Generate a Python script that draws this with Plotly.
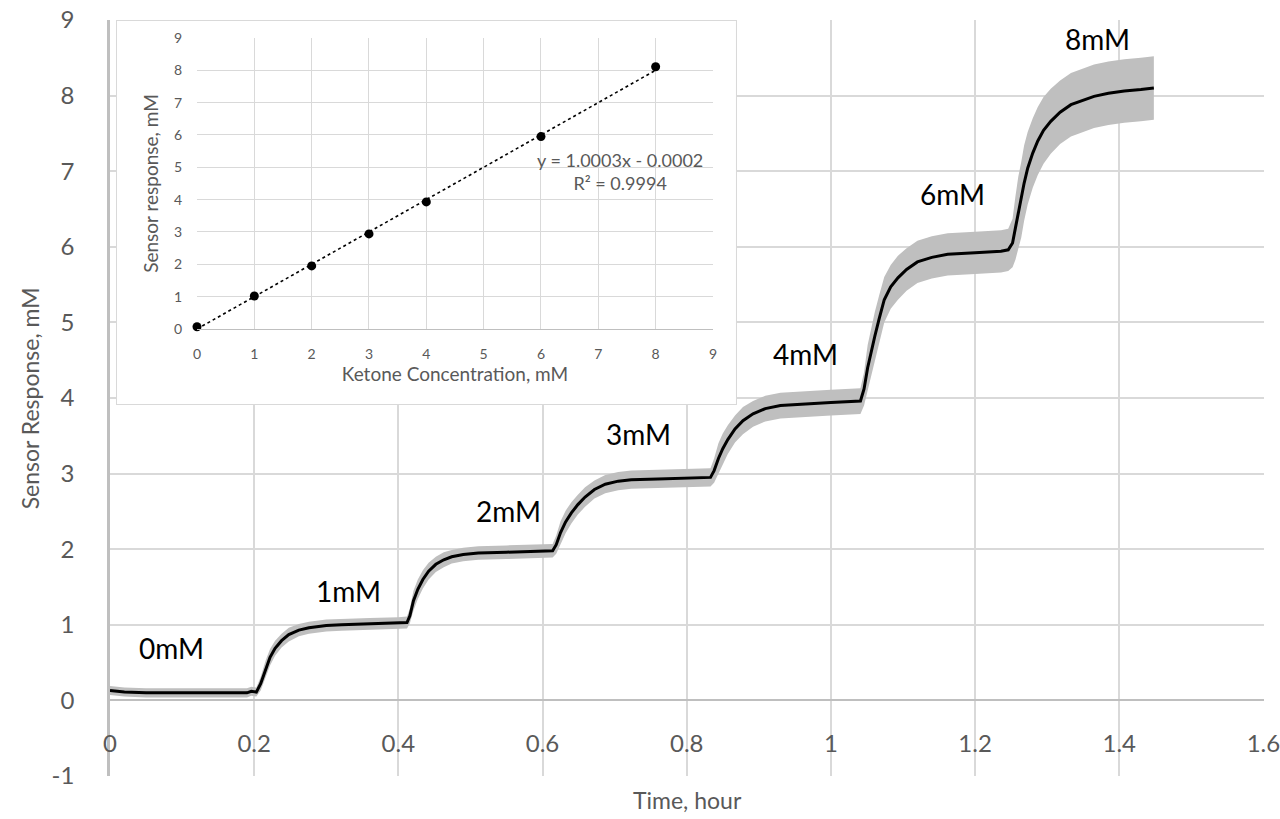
import plotly.graph_objects as go

# ---------------- main series ----------------
time_h = [0, 0.02, 0.05, 0.1, 0.15, 0.19, 0.196,
          0.203, 0.209, 0.216, 0.222, 0.229, 0.238, 0.248, 0.262, 0.276, 0.3, 0.321, 0.36, 0.40, 0.412,
          0.416, 0.421, 0.427, 0.434, 0.442, 0.452, 0.463, 0.474, 0.49, 0.511, 0.55, 0.59, 0.614,
          0.619, 0.625, 0.632, 0.640, 0.649, 0.659, 0.672, 0.687, 0.705, 0.723, 0.76, 0.80, 0.833,
          0.838, 0.844, 0.85, 0.857, 0.867, 0.878, 0.892, 0.909, 0.93, 0.96, 1.0, 1.041,
          1.046, 1.051, 1.056, 1.061, 1.067, 1.074, 1.083, 1.093, 1.105, 1.12, 1.14, 1.162, 1.2, 1.236, 1.246,
          1.252, 1.256, 1.26, 1.264, 1.268, 1.273, 1.28, 1.287, 1.295, 1.305, 1.318, 1.333, 1.35, 1.365,
          1.385, 1.407, 1.43, 1.448]
response_mM = [0.13, 0.11, 0.10, 0.10, 0.10, 0.10, 0.12,
               0.11, 0.22, 0.42, 0.57, 0.69, 0.79, 0.87, 0.93, 0.96, 0.99, 1.00, 1.01, 1.02, 1.03,
               1.12, 1.32, 1.47, 1.60, 1.71, 1.80, 1.86, 1.90, 1.93, 1.95, 1.96, 1.97, 1.98,
               2.06, 2.22, 2.36, 2.48, 2.59, 2.69, 2.79, 2.86, 2.90, 2.92, 2.93, 2.94, 2.95,
               3.04, 3.20, 3.33, 3.45, 3.59, 3.70, 3.79, 3.86, 3.90, 3.92, 3.94, 3.96,
               4.12, 4.40, 4.62, 4.82, 5.05, 5.30, 5.47, 5.59, 5.70, 5.80, 5.86, 5.90, 5.92, 5.94, 5.96,
               6.05, 6.25, 6.45, 6.62, 6.84, 7.04, 7.24, 7.40, 7.54, 7.66, 7.78, 7.88, 7.94, 7.99,
               8.03, 8.06, 8.08, 8.10]
# half-width of the grey spread band around the mean trace
spread_mM = [0.06, 0.06, 0.06, 0.06, 0.06, 0.06, 0.06,
             0.06, 0.09, 0.11, 0.11, 0.10, 0.09, 0.09, 0.08, 0.08, 0.08, 0.08, 0.08, 0.08, 0.08,
             0.10, 0.13, 0.13, 0.12, 0.11, 0.10, 0.10, 0.09, 0.09, 0.09, 0.09, 0.09, 0.09,
             0.12, 0.15, 0.15, 0.14, 0.13, 0.13, 0.12, 0.12, 0.12, 0.12, 0.12, 0.12, 0.12,
             0.16, 0.20, 0.20, 0.19, 0.18, 0.18, 0.17, 0.17, 0.17, 0.17, 0.17, 0.17,
             0.22, 0.30, 0.32, 0.32, 0.31, 0.30, 0.29, 0.29, 0.28, 0.28, 0.28, 0.28, 0.28, 0.28, 0.28,
             0.32, 0.42, 0.48, 0.50, 0.50, 0.48, 0.46, 0.45, 0.44, 0.43, 0.42, 0.42, 0.42, 0.42,
             0.42, 0.42, 0.42, 0.42]

step_labels = ["0mM", "1mM", "2mM", "3mM", "4mM", "6mM", "8mM"]
step_label_x = [0.085, 0.331, 0.553, 0.733, 0.965, 1.169, 1.370]
step_label_y = [0.69, 1.45, 2.51, 3.53, 4.58, 6.70, 8.75]

main_xticks = [0, 0.2, 0.4, 0.6, 0.8, 1, 1.2, 1.4, 1.6]
main_yticks = [-1, 0, 1, 2, 3, 4, 5, 6, 7, 8, 9]

# ---------------- inset (calibration) ----------------
ketone_conc = [0, 1, 2, 3, 4, 6, 8]
sensor_resp = [0.07, 1.02, 1.95, 2.94, 3.93, 5.95, 8.11]
fit_slope = 1.0003
fit_intercept = -0.0002
fit_r2 = 0.9994
inset_ticks = [0, 1, 2, 3, 4, 5, 6, 7, 8, 9]

GRID = "#d9d9d9"
AXL = "#bfbfbf"
TXT = "#595959"
FONT = "Lato"

band_upper = [r + s for r, s in zip(response_mM, spread_mM)]
band_lower = [r - s for r, s in zip(response_mM, spread_mM)]

fig = go.Figure()
fig.add_trace(go.Scatter(x=time_h, y=band_lower, mode="lines", line=dict(width=0, color="#bfbfbf"),
                         hoverinfo="skip", showlegend=False, xaxis="x", yaxis="y"))
fig.add_trace(go.Scatter(x=time_h, y=band_upper, mode="lines", line=dict(width=0, color="#bfbfbf"),
                         fill="tonexty", fillcolor="#bfbfbf", hoverinfo="skip", showlegend=False,
                         xaxis="x", yaxis="y"))
fig.add_trace(go.Scatter(x=time_h, y=response_mM, mode="lines", line=dict(width=3, color="black"),
                         showlegend=False, xaxis="x", yaxis="y"))

# inset traces
fit_x = [ketone_conc[0], ketone_conc[-1]]
fit_y = [fit_slope * v + fit_intercept for v in fit_x]
fig.add_trace(go.Scatter(x=fit_x, y=fit_y, mode="lines", line=dict(color="black", width=1.6, dash="dot"),
                         showlegend=False, xaxis="x3", yaxis="y3"))
fig.add_trace(go.Scatter(x=ketone_conc, y=sensor_resp, mode="markers",
                         marker=dict(color="black", size=9), showlegend=False, xaxis="x3", yaxis="y3",
                         cliponaxis=False))

for t, xx, yy in zip(step_labels, step_label_x, step_label_y):
    fig.add_annotation(x=xx, y=yy, xref="x", yref="y", text=t, showarrow=False,
                       font=dict(family=FONT, size=28, color="black"))

fig.add_annotation(x=7.38, y=4.87, xref="x3", yref="y3", showarrow=False,
                   text=f"y = {fit_slope:.4f}x - {abs(fit_intercept):.4f}<br>R² = {fit_r2:.4f}",
                   font=dict(family=FONT, size=18, color=TXT), align="center")

# main axis titles
fig.add_annotation(x=0.5, y=-0.032, xref="paper", yref="paper", text="Time, hour", showarrow=False,
                   font=dict(family=FONT, size=23, color=TXT), yanchor="middle")
fig.add_annotation(x=-0.069, y=0.5, xref="paper", yref="paper", text="Sensor Response, mM",
                   showarrow=False, textangle=-90, font=dict(family=FONT, size=23, color=TXT),
                   xanchor="center")

# white inset panel
fig.add_shape(type="rect", xref="x2", yref="y2", x0=0, x1=1, y0=0, y1=1, layer="below",
              fillcolor="white", line=dict(color=GRID, width=2))

# inset box & plot domains (fractions of the main plot area)
box_x = [0.0052, 0.5433]
box_y = [0.4907, 1.0]
in_x = [0.0754, 0.5225]
in_y = [0.5913, 0.9762]

fig.update_layout(
    width=1280, height=819,
    margin=dict(l=110, r=16, t=20, b=43, autoexpand=False),
    paper_bgcolor="white", plot_bgcolor="white",
    font=dict(family=FONT, color=TXT),
    xaxis=dict(range=[0, 1.6008], tickvals=main_xticks, ticktext=[f"{v:g}" for v in main_xticks],
               showgrid=True, gridcolor=GRID, gridwidth=1.5, zeroline=False, automargin=False,
               showline=True, linecolor=AXL, linewidth=1.5, anchor="free", position=0.1,
               ticklabeloverflow="allow",
               ticks="", ticklabelstandoff=22, tickfont=dict(size=24, color=TXT)),
    yaxis=dict(range=[-1, 9], tickvals=main_yticks, ticktext=[f"{v:g}" for v in main_yticks],
               showgrid=True, gridcolor=GRID, gridwidth=1.5,
               zeroline=False, showline=True, linecolor=AXL, linewidth=2.5, ticks="", automargin=False,
               ticklabelstandoff=28, tickfont=dict(size=24, color=TXT)),
    xaxis2=dict(domain=box_x, anchor="y2", range=[0, 1], visible=False, fixedrange=True, automargin=False),
    yaxis2=dict(domain=box_y, anchor="x2", range=[0, 1], visible=False, fixedrange=True, automargin=False),
    xaxis3=dict(domain=in_x, anchor="y3", range=[0, 9], tickvals=inset_ticks, showgrid=True,
                gridcolor=GRID, gridwidth=1, zeroline=False, showline=True, linecolor=AXL, linewidth=1,
                ticks="", ticklabelstandoff=12, tickfont=dict(size=14, color=TXT), automargin=False,
                title=dict(text="Ketone Concentration, mM", font=dict(size=19, color=TXT), standoff=4)),
    yaxis3=dict(domain=in_y, anchor="x3", range=[0, 9], tickvals=inset_ticks, showgrid=True,
                gridcolor=GRID, gridwidth=1, zeroline=False, showline=False, automargin=False,
                ticks="", ticklabelstandoff=14, tickfont=dict(size=14, color=TXT),
                title=dict(text="Sensor response, mM", font=dict(size=19, color=TXT), standoff=10)),
)

fig.write_html("out.html")
